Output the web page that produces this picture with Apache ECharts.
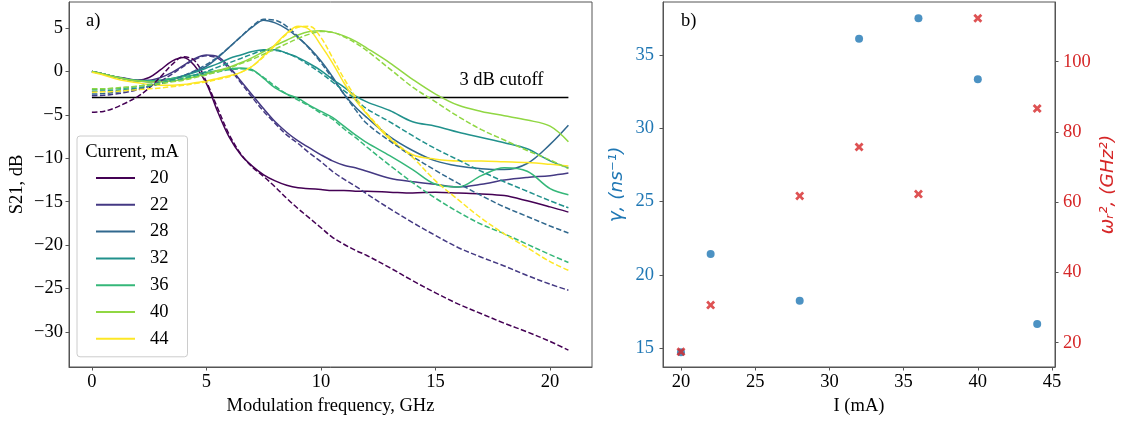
<!DOCTYPE html>
<html><head><meta charset="utf-8">
<script src="https://cdn.jsdelivr.net/npm/echarts@6/dist/echarts.min.js"></script>
<style>html,body{margin:0;padding:0;background:#fff}#c{width:1126px;height:423px}</style>
</head><body><div id="c"></div>
<script>
// ---- Panel a) data ----
const freq = [0,0.5,1,1.5,2,2.5,3,3.5,4,4.5,5,5.5,6,6.5,7,7.5,8,8.5,9,9.5,10,10.5,11,11.5,12,13,14,15,16,17,18,19,20,20.8];
const currents = ['20','22','28','32','36','40','44'];
const meas20 = [0,-0.3,-0.6,-0.9,-1.0,-0.7,0.2,1.2,1.6,0.6,-1.4,-4.7,-7.6,-9.6,-10.9,-11.9,-12.6,-13.1,-13.4,-13.5,-13.6,-13.7,-13.7,-13.8,-13.8,-13.9,-14.0,-13.9,-14.0,-14.1,-14.3,-14.9,-15.6,-16.2];
const fit20  = [-4.7,-4.6,-4.2,-3.6,-2.9,-1.9,-0.6,0.8,1.7,1.2,-1.2,-4.3,-7.3,-9.5,-11.0,-12.1,-13.3,-14.6,-15.8,-16.9,-18.0,-19.1,-19.9,-20.6,-21.2,-22.6,-24.1,-25.5,-26.8,-27.9,-29.0,-30.0,-31.1,-32.1];
const meas22 = [0,-0.3,-0.6,-0.8,-1.0,-1.0,-0.7,-0.1,0.7,1.5,1.9,1.7,0.5,-1.1,-2.7,-4.3,-5.8,-7.0,-8.0,-8.8,-9.6,-10.3,-10.8,-11.1,-11.5,-12.3,-12.7,-13.0,-13.3,-13.0,-12.5,-12.2,-12.0,-11.7];
const fit22  = [-2.8,-2.75,-2.6,-2.4,-2.1,-1.7,-1.1,-0.3,0.6,1.4,1.8,1.5,0.3,-1.3,-3.0,-4.6,-6.0,-7.3,-8.3,-9.4,-10.4,-11.5,-12.4,-13.2,-14.1,-15.8,-17.4,-18.9,-20.3,-21.4,-22.4,-23.5,-24.5,-25.2];
const meas28 = [0,-0.3,-0.6,-0.9,-1.1,-1.2,-1.1,-0.9,-0.5,0.0,0.6,1.6,2.8,4.0,5.1,5.9,5.6,4.9,3.9,2.7,1.2,-0.6,-2.6,-4.1,-5.3,-7.5,-9.1,-10.3,-10.9,-11.2,-11.3,-10.6,-8.4,-6.2];
const fit28  = [-2.6,-2.55,-2.4,-2.2,-2.0,-1.7,-1.4,-1.0,-0.5,0.1,0.8,1.7,2.8,4.0,5.2,6.0,5.9,5.2,4.0,2.6,1.0,-0.8,-2.6,-4.4,-6.0,-8.0,-9.8,-11.4,-12.9,-14.3,-15.6,-16.7,-17.8,-18.6];
const meas32 = [0,-0.3,-0.6,-0.9,-1.1,-1.1,-1.0,-0.8,-0.5,-0.1,0.4,0.9,1.5,1.9,2.3,2.5,2.5,2.1,1.6,0.9,0.1,-0.9,-1.8,-2.8,-3.5,-4.5,-5.8,-6.3,-7.0,-7.6,-8.2,-8.9,-10.3,-11.1];
const fit32  = [-2.3,-2.25,-2.2,-2.05,-1.9,-1.65,-1.4,-1.1,-0.8,-0.4,0.0,0.5,1.0,1.5,2.0,2.4,2.4,2.1,1.5,0.7,-0.2,-1.2,-2.2,-3.2,-4.3,-5.8,-7.4,-8.9,-10.2,-11.5,-12.7,-13.8,-14.9,-15.7];
const meas36 = [0,-0.3,-0.6,-0.9,-1.0,-1.1,-1.0,-0.8,-0.6,-0.4,-0.1,0.1,0.3,0.4,0.2,-0.8,-1.9,-2.6,-3.1,-3.9,-4.6,-5.3,-6.3,-7.3,-8.2,-9.7,-11.3,-13.0,-13.3,-12.0,-11.1,-11.5,-13.5,-14.2];
const fit36  = [-2.1,-2.05,-2.0,-1.9,-1.7,-1.5,-1.3,-1.05,-0.8,-0.55,-0.3,-0.05,0.2,0.3,0.1,-0.7,-1.7,-2.6,-3.3,-4.0,-4.8,-5.5,-6.6,-7.6,-8.7,-10.8,-12.8,-14.6,-16.2,-17.6,-18.7,-19.9,-21.1,-22.0];
const meas40 = [0,-0.3,-0.6,-0.9,-1.1,-1.2,-1.2,-1.1,-0.9,-0.6,-0.3,0.1,0.5,1.0,1.6,2.3,3.0,3.6,4.2,4.6,4.7,4.5,4.1,3.5,2.7,1.0,-0.9,-2.6,-3.9,-4.6,-5.1,-5.6,-6.3,-8.1];
const fit40  = [-2.0,-2.0,-1.9,-1.8,-1.7,-1.55,-1.4,-1.2,-1.0,-0.7,-0.4,0.0,0.4,0.9,1.4,2.0,2.6,3.2,3.8,4.3,4.6,4.5,4.0,3.3,2.4,0.3,-1.8,-3.5,-5.2,-6.7,-7.9,-9.1,-10.2,-11.2];
const meas44 = [-0.1,-0.4,-0.8,-1.1,-1.3,-1.5,-1.6,-1.6,-1.5,-1.3,-1.1,-0.8,-0.5,-0.1,0.6,1.8,3.1,4.4,5.2,4.8,3.0,1.0,-1.3,-3.3,-4.9,-7.8,-9.6,-10.1,-10.3,-10.3,-10.4,-10.5,-10.7,-10.9];
const fit44  = [-2.4,-2.35,-2.3,-2.2,-2.1,-2.0,-1.9,-1.75,-1.6,-1.4,-1.2,-0.9,-0.6,-0.1,0.6,1.7,3.0,4.3,5.1,5.2,3.9,1.6,-0.8,-2.9,-4.8,-7.6,-9.9,-12.6,-14.8,-16.9,-18.7,-20.3,-21.9,-22.9];
const cutoffLevel = -3;
const cutoffRange = [0, 20.8];
const cutoffText = '3 dB cutoff';
const xTicksA = [0,5,10,15,20];
const yTicksA = [-30,-25,-20,-15,-10,-5,0,5];

// ---- Panel b) data ----
const currentI = [20,22,28,32,36,40,44];
const gammaVals = [14.73,21.42,18.23,36.1,37.5,33.35,16.65];
const omega2Vals = [17.4,30.7,61.8,75.7,62.3,112.4,86.7];
const xTicksB = [20,25,30,35,40,45];
const yTicksGamma = [15,20,25,30,35];
const yTicksOmega = [20,40,60,80,100];

const measured = [meas20,meas22,meas28,meas32,meas36,meas40,meas44];
const fitted = [fit20,fit22,fit28,fit32,fit36,fit40,fit44];
const colors = ['#440154','#443983','#31688e','#21918c','#35b779','#90d743','#fde725'];
const SERIF = 'Liberation Serif';
const FS = 18.5;
const AX = '#555';
const minus = v => String(v).replace('-', '\u2212');

const chart = echarts.init(document.getElementById('c'), null, {renderer:'canvas'});

const series = [];
measured.forEach((arr, i) => {
  series.push({type:'line', name: currents[i], xAxisIndex:0, yAxisIndex:0,
    data: freq.map((f,k)=>[f, arr[k]]), showSymbol:false, symbol:'none', smooth:0.35,
    lineStyle:{color:colors[i], width:1.5}, itemStyle:{color:colors[i]}, z:3});
});
fitted.forEach((arr, i) => {
  series.push({type:'line', name: currents[i] + ' fit', xAxisIndex:0, yAxisIndex:0,
    data: freq.map((f,k)=>[f, arr[k]]), showSymbol:false, symbol:'none', smooth:0.35,
    lineStyle:{color:colors[i], width:1.5, type:[5.5,2.4]}, itemStyle:{color:colors[i]}, z:3});
});
series.push({type:'line', name:'cutoff', xAxisIndex:0, yAxisIndex:0,
  data: cutoffRange.map(f=>[f, cutoffLevel]), showSymbol:false, symbol:'none',
  lineStyle:{color:'#000', width:1.5}, z:2});
series.push({type:'scatter', name:'gamma', xAxisIndex:1, yAxisIndex:1,
  data: currentI.map((c,k)=>[c, gammaVals[k]]), symbol:'circle', symbolSize:8,
  itemStyle:{color:'#1f77b4'}, z:3});
series.push({type:'scatter', name:'omega2', xAxisIndex:1, yAxisIndex:2,
  data: currentI.map((c,k)=>[c, omega2Vals[k]]),
  symbol:'path://M2.2,0 L5,2.8 L7.8,0 L10,2.2 L7.2,5 L10,7.8 L7.8,10 L5,7.2 L2.2,10 L0,7.8 L2.8,5 L0,2.2 Z', symbolSize:9,
  itemStyle:{color:'#d62728'}, z:4});

function valAxis(opts){
  return Object.assign({
    type:'value', splitLine:{show:false},
    axisLine:{show:true, onZero:false, lineStyle:{color:AX, width:1}},
    nameTextStyle:{fontFamily:SERIF, fontSize:FS, color:'#000'}
  }, opts);
}

const option = {
  animation:false,
  backgroundColor:'#fff',
  grid:[
    {left:69, right:1126-592, top:2, bottom:423-367, show:true, borderColor:AX, borderWidth:1, containLabel:false, outerBoundsMode:'none'},
    {left:663, right:1126-1055, top:2, bottom:423-367, show:true, borderColor:AX, borderWidth:1, containLabel:false, outerBoundsMode:'none'}
  ],
  xAxis:[
    valAxis({gridIndex:0, min:-1.0, max:21.83, name:'Modulation frequency, GHz', nameLocation:'middle', nameGap:26,
      axisTick:{show:true, length:3.5, lineStyle:{color:AX}, customValues:xTicksA},
      axisLabel:{fontFamily:SERIF, fontSize:FS, color:'#000', margin:6, customValues:xTicksA, formatter:minus}}),
    valAxis({gridIndex:1, min:18.79, max:45.2, name:'I (mA)', nameLocation:'middle', nameGap:26,
      axisTick:{show:true, length:3.5, lineStyle:{color:AX}, customValues:xTicksB},
      axisLabel:{fontFamily:SERIF, fontSize:FS, color:'#000', margin:6, customValues:xTicksB}})
  ],
  yAxis:[
    valAxis({gridIndex:0, min:-34.04, max:8.0, name:'S21, dB', nameLocation:'middle', nameGap:42, nameRotate:90,
      axisTick:{show:true, length:3.5, lineStyle:{color:AX}, customValues:yTicksA},
      axisLabel:{fontFamily:SERIF, fontSize:FS, color:'#000', margin:6, customValues:yTicksA, formatter:minus}}),
    valAxis({gridIndex:1, position:'left', min:13.72, max:38.61, name:'\u03B3, (ns\u207B\u00B9)', nameLocation:'middle', nameGap:36, nameRotate:90,
      nameTextStyle:{fontFamily:'DejaVu Sans', fontStyle:'italic', fontSize:FS, color:'#1f77b4'},
      axisTick:{show:true, length:3.5, lineStyle:{color:AX}, customValues:yTicksGamma},
      axisLabel:{fontFamily:SERIF, fontSize:FS, color:'#1f77b4', margin:9, customValues:yTicksGamma}}),
    valAxis({gridIndex:1, position:'right', min:13.08, max:117.0, name:'\u03C9\u1D63\u00B2, (GHz\u00B2)', nameLocation:'middle', nameGap:44, nameRotate:90,
      nameTextStyle:{fontFamily:'DejaVu Sans', fontStyle:'italic', fontSize:FS, color:'#d62728'},
      axisTick:{show:true, length:3.5, lineStyle:{color:AX}, customValues:yTicksOmega},
      axisLabel:{fontFamily:SERIF, fontSize:FS, color:'#d62728', margin:8, customValues:yTicksOmega}})
  ],
  legend:{
    data: currents, orient:'vertical', left:77, top:136, padding:[31,19,7,19],
    itemWidth:39, itemHeight:2, itemGap:4.8, icon:'rect', selectedMode:false,
    backgroundColor:'rgba(255,255,255,0.8)', borderColor:'#ccc', borderWidth:1, borderRadius:3,
    textStyle:{fontFamily:SERIF, fontSize:FS, color:'#000', lineHeight:22, padding:[0,0,0,10]}
  },
  series: series
};
chart.setOption(option);

const endPx = chart.convertToPixel({gridIndex:0}, [cutoffRange[1], cutoffLevel]);
chart.setOption({
  graphic:[
    {type:'text', left:86, top:12, style:{text:'a)', font:FS+'px "'+SERIF+'"', fill:'#000'}, z:10},
    {type:'text', left:681, top:12, style:{text:'b)', font:FS+'px "'+SERIF+'"', fill:'#000'}, z:10},
    {type:'text', x:endPx[0]-25, y:endPx[1]-8, style:{text:cutoffText, font:FS+'px "'+SERIF+'"', fill:'#000', align:'right', verticalAlign:'bottom'}, z:10},
    {type:'text', x:132, y:152, style:{text:'Current, mA', font:FS+'px "'+SERIF+'"', fill:'#000', align:'center', verticalAlign:'middle'}, z:10}
  ]
});
</script></body></html>
